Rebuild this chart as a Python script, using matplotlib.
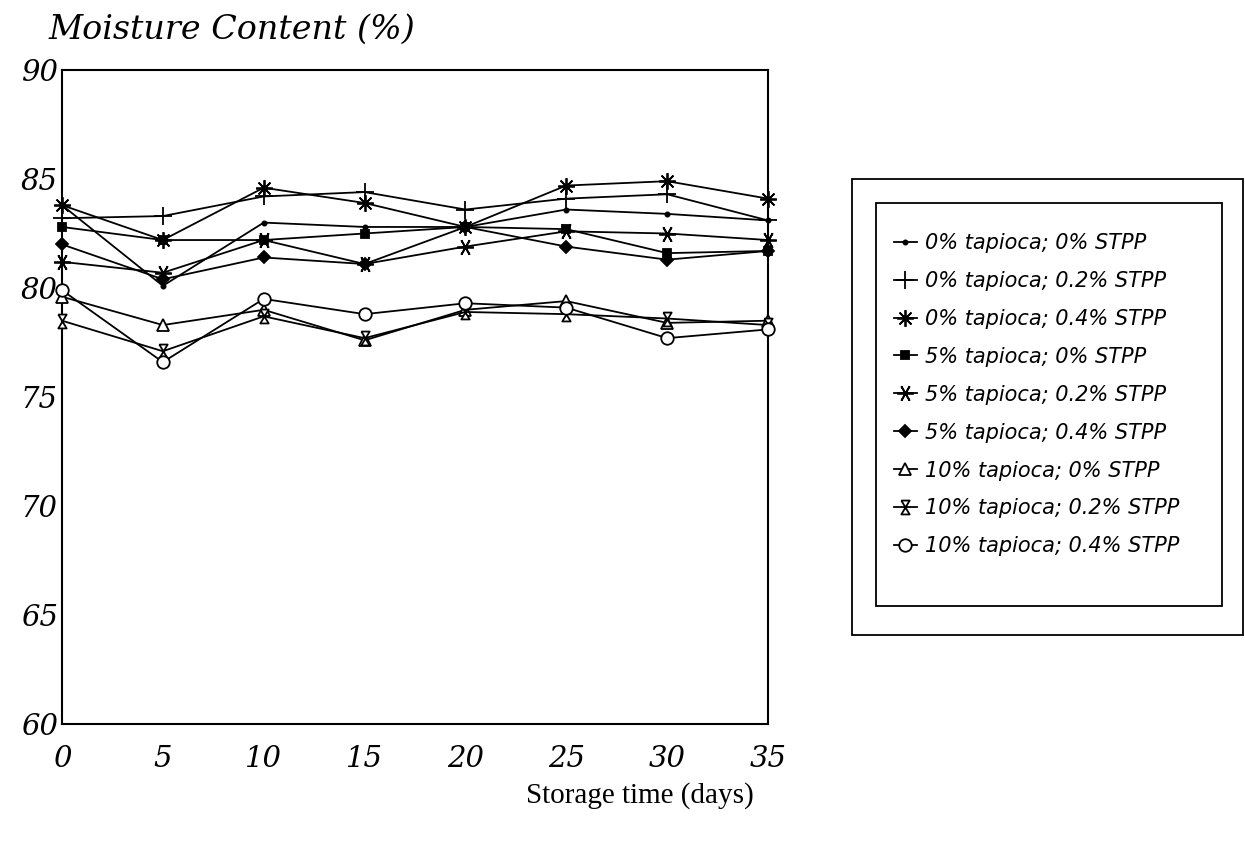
import matplotlib
matplotlib.use("Agg")
import matplotlib.pyplot as plt
from matplotlib.patches import Rectangle

plt.rcParams['figure.dpi'] = 100

# Storage days and moisture content (%) per formulation
days = [0, 5, 10, 15, 20, 25, 30, 35]

t0_s0 = [83.8, 80.1, 83.0, 82.8, 82.8, 83.6, 83.4, 83.1]
t0_s2 = [83.2, 83.3, 84.2, 84.4, 83.6, 84.1, 84.3, 83.1]
t0_s4 = [83.8, 82.2, 84.6, 83.9, 82.8, 84.7, 84.9, 84.1]
t5_s0 = [82.8, 82.2, 82.2, 82.5, 82.8, 82.7, 81.6, 81.7]
t5_s2 = [81.2, 80.7, 82.2, 81.1, 81.9, 82.6, 82.5, 82.2]
t5_s4 = [82.0, 80.4, 81.4, 81.1, 82.8, 81.9, 81.3, 81.7]
t10_s0 = [79.6, 78.3, 79.0, 77.6, 79.0, 79.4, 78.4, 78.5]
t10_s2 = [78.5, 77.1, 78.7, 77.7, 78.9, 78.8, 78.6, 78.3]
t10_s4 = [79.9, 76.6, 79.5, 78.8, 79.3, 79.1, 77.7, 78.1]

labels = [
    "0% tapioca; 0% STPP",
    "0% tapioca; 0.2% STPP",
    "0% tapioca; 0.4% STPP",
    "5% tapioca; 0% STPP",
    "5% tapioca; 0.2% STPP",
    "5% tapioca; 0.4% STPP",
    "10% tapioca; 0% STPP",
    "10% tapioca; 0.2% STPP",
    "10% tapioca; 0.4% STPP",
]
series = [t0_s0, t0_s2, t0_s4, t5_s0, t5_s2, t5_s4, t10_s0, t10_s2, t10_s4]

hourglass = [(-0.6, 1), (0.6, 1), (-0.6, -1), (0.6, -1), (-0.6, 1)]

# marker, size, face colour
styles = [
    ('o', 3, 'black'),
    ('+', 13, 'black'),
    ((8, 2, 0), 12, 'black'),
    ('s', 6, 'black'),
    ((6, 2, 90), 12, 'black'),
    ('D', 6, 'black'),
    ('^', 9, 'white'),
    (hourglass, 10, 'white'),
    ('o', 9, 'white'),
]

fig = plt.figure(figsize=(12.45, 8.43))
W, H = 1245, 843
ax = fig.add_axes([62 / W, 1 - 724 / H, (768 - 62) / W, (724 - 70) / H])

for vals, lab, (mk, ms, fc) in zip(series, labels, styles):
    ax.plot(days, vals, color='black', lw=1.3, marker=mk, markersize=ms,
            markerfacecolor=fc, markeredgecolor='black', markeredgewidth=1.3,
            label=lab, clip_on=False, zorder=3)

ax.set_xlim(0, 35)
ax.set_ylim(60, 90)
ax.set_xticks(days)
ax.set_yticks([60, 65, 70, 75, 80, 85, 90])
tick_font = dict(family='DejaVu Serif', style='italic', size=21)
ax.set_xticklabels([str(d) for d in days], **tick_font)
ax.set_yticklabels(['60', '65', '70', '75', '80', '85', '90'], **tick_font)
ax.tick_params(axis='both', length=0)
ax.tick_params(axis='x', pad=15)
ax.tick_params(axis='y', pad=3)
for sp in ax.spines.values():
    sp.set_linewidth(1.5)

fig.text(48 / W, 1 - 30 / H, "Moisture Content (%)", family='DejaVu Serif',
         style='italic', size=24, ha='left', va='center')
fig.text(640 / W, 1 - 796 / H, "Storage time (days)", family='Liberation Serif',
         size=21, ha='center', va='center')

# legend inside a double frame
leg = fig.legend(loc='upper left', bbox_to_anchor=(894 / W, 1 - 233 / H),
                 bbox_transform=fig.transFigure, frameon=False,
                 prop=dict(family='DejaVu Sans', style='italic', size=15),
                 handlelength=1.1, handletextpad=0.4, labelspacing=0.86,
                 borderpad=0, borderaxespad=0)

fig.patches.append(Rectangle((876 / W, 1 - 606 / H), (1222 - 876) / W, (606 - 203) / H,
                             transform=fig.transFigure, fill=False, lw=1.3, color='black'))
fig.patches.append(Rectangle((852 / W, 1 - 635 / H), (1243 - 852) / W, (635 - 179) / H,
                             transform=fig.transFigure, fill=False, lw=1.3, color='black'))

fig.savefig('out.png', dpi=100)
